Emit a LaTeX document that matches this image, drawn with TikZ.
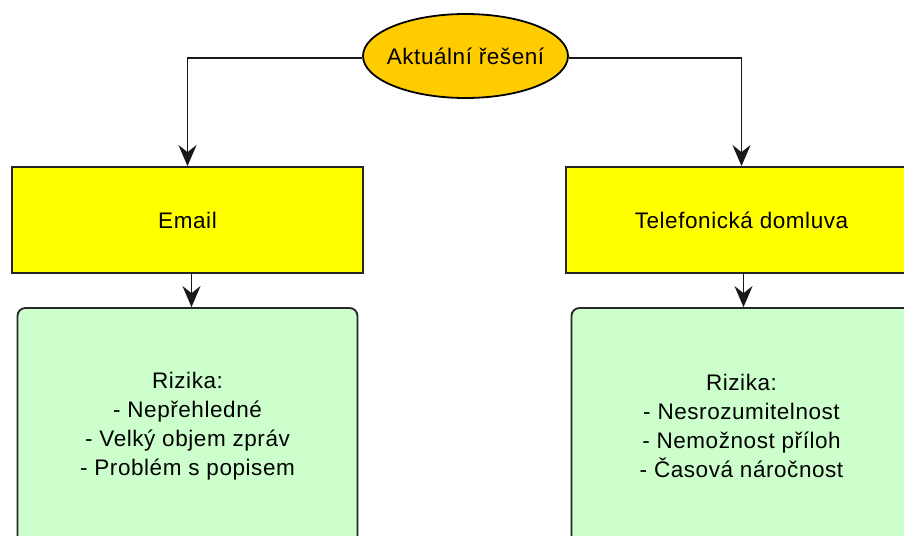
\documentclass[tikz,border=0pt]{standalone}
\usepackage{fontspec}
\setmainfont[LetterSpace=2.5]{Liberation Sans}
\usetikzlibrary{shapes.geometric,arrows.meta}
\definecolor{rootfill}{HTML}{FFCC00}
\definecolor{optfill}{HTML}{FFFF00}
\definecolor{riskfill}{HTML}{CCFFCC}
\tikzset{
  every node/.style={font=\fontsize{22.5}{29}\selectfont},
  rootnode/.style={ellipse, draw=black, line width=1.8pt, fill=rootfill,
    minimum width=205pt, minimum height=84pt, inner xsep=-8pt, inner ysep=0pt},
  optbox/.style={rectangle, draw=black!85, line width=1.8pt, fill=optfill,
    minimum width=351pt, minimum height=106pt, inner sep=0pt},
  riskbox/.style={rectangle, rounded corners=8pt, draw=black!85, line width=1.8pt,
    fill=riskfill, minimum width=340pt, minimum height=236pt, inner sep=0pt,
    align=center},
  link/.style={line width=1.8pt, draw=black!90,
    -{Stealth[length=21pt,width=18pt,inset=7pt]}}
}
\begin{document}
\begin{tikzpicture}[x=1pt,y=-1pt]
  \useasboundingbox (0,0) rectangle (904,535);
  \clip (0,0) rectangle (904,535);
  \fill[white] (0,0) rectangle (904,535);

  % option boxes
  \node[optbox] (email) at (187.5,220) {Email};
  \node[optbox] (phone) at (741.5,220) {Telefonická domluva};

  % risk boxes
  \node[riskbox] (remail) at (187.5,426) {Rizika:\\- Nepřehledné\\- Velký objem zpráv\\- Problém s popisem};
  \node[riskbox] (rphone) at (741.5,426) {Rizika:\\- Nesrozumitelnost\\- Nemožnost příloh\\- Časová náročnost};

  % root
  \node[rootnode] (root) at (465.5,56) {Aktuální řešení};

  % connectors
  \draw[link] ([yshift=-2pt]root.west) -| (email.north);
  \draw[link] ([yshift=-2pt]root.east) -| (phone.north);
  \draw[link] ([xshift=4pt]email.south) -- ([xshift=4pt]remail.north);
  \draw[link] ([xshift=2pt]phone.south) -- ([xshift=2pt]rphone.north);
\end{tikzpicture}
\end{document}
